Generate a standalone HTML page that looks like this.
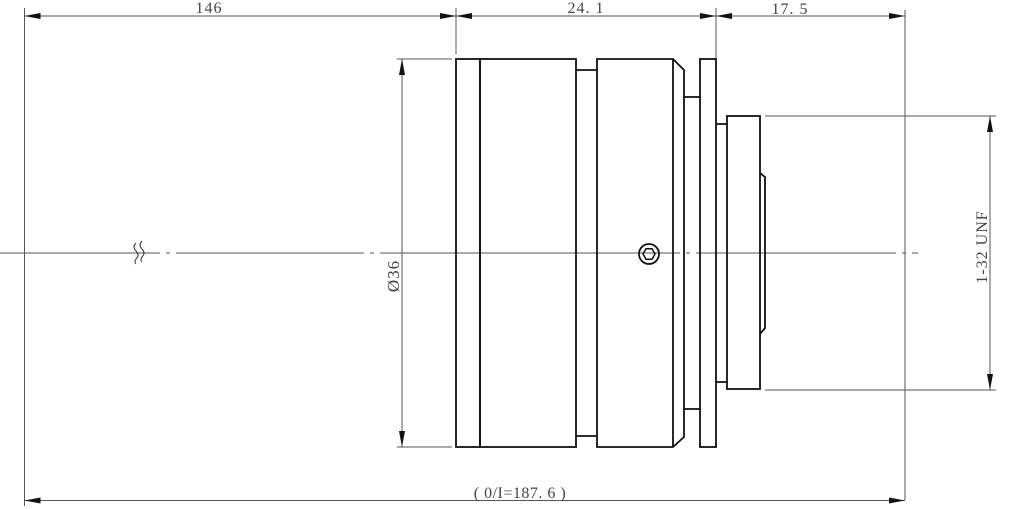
<!DOCTYPE html>
<html><head><meta charset="utf-8"><style>
html,body{margin:0;padding:0;background:#fff;}
svg{display:block;}
text{font-family:"Liberation Serif","Noto Serif CJK SC",serif;fill:#444;}
</style></head><body>
<svg width="1009" height="509" viewBox="0 0 1009 509" xmlns="http://www.w3.org/2000/svg">
<defs>
<marker id="a" viewBox="0 0 16 6" refX="16" refY="3" markerWidth="16" markerHeight="6" markerUnits="userSpaceOnUse" orient="auto-start-reverse"><path d="M0,0 L16,3 L0,6 z" fill="#111"/></marker>
</defs>
<g stroke="#555" stroke-width="1" fill="none">
<line x1="24.5" y1="8" x2="24.5" y2="506"/>
<line x1="905" y1="10" x2="905" y2="500"/>
<line x1="456" y1="8" x2="456" y2="54"/>
<line x1="716" y1="8" x2="716" y2="59"/>
<line x1="397" y1="59" x2="452" y2="59"/>
<line x1="397" y1="447" x2="452" y2="447"/>
<line x1="765" y1="116" x2="996" y2="116"/>
<line x1="765" y1="390" x2="996" y2="390"/>
<line x1="24.5" y1="16" x2="456" y2="16" marker-start="url(#a)" marker-end="url(#a)"/>
<line x1="456" y1="16" x2="716" y2="16" marker-start="url(#a)" marker-end="url(#a)"/>
<line x1="716" y1="16" x2="905" y2="16" marker-start="url(#a)" marker-end="url(#a)"/>
<line x1="24.5" y1="500.5" x2="905" y2="500.5" marker-start="url(#a)" marker-end="url(#a)"/>
<line x1="402" y1="59" x2="402" y2="447" marker-start="url(#a)" marker-end="url(#a)"/>
<line x1="990" y1="116" x2="990" y2="390" marker-start="url(#a)" marker-end="url(#a)"/>
<line x1="0" y1="253" x2="918" y2="253" stroke-dasharray="160,6,4,6,188,6,4,6,300,6,4,6,200,6,4,6,300"/>
<path d="M136,243 q-4,4 0,8 q4,4 0,8 q-2,3 0,5 M142,241 q-4,4 0,8 q4,4 0,8 q-2,3 0,5" stroke="#333"/>
</g>
<g stroke="#111" stroke-width="1.8" fill="none">
<rect x="456" y="59" width="24" height="388"/>
<rect x="480" y="59" width="96" height="388"/>
<path d="M576,70 H597 M576,436 H597"/>
<path d="M597,59 H673 L684,70 V437 L673,447 H597 Z"/>
<line x1="673" y1="59" x2="673" y2="447"/>
<path d="M684,97 H700 M684,409 H700"/>
<rect x="700" y="59" width="16" height="388"/>
<path d="M716,124 H727 M716,382 H727"/>
<rect x="727" y="116" width="33" height="273"/>
<path d="M760,173 L765,177 V328 L760,334"/>
<circle cx="649" cy="254" r="10"/>
<polygon points="655,254 652,259.2 646,259.2 643,254 646,248.8 652,248.8" stroke-width="1.5"/>
</g>
<g font-size="16">
<text x="209" y="13" text-anchor="middle" letter-spacing="1">146</text>
<text x="586" y="13" text-anchor="middle" letter-spacing="1">24. 1</text>
<text x="790" y="14" text-anchor="middle" letter-spacing="1">17. 5</text>
<text x="520" y="498" text-anchor="middle" letter-spacing="0.5">( 0/I=187. 6 )</text>
<text transform="translate(399,276) rotate(-90)" text-anchor="middle" font-size="17" letter-spacing="1">Ø36</text>
<text transform="translate(987,247) rotate(-90)" text-anchor="middle" font-size="16" letter-spacing="1">1-32 UNF</text>
</g>
</svg>
</body></html>
